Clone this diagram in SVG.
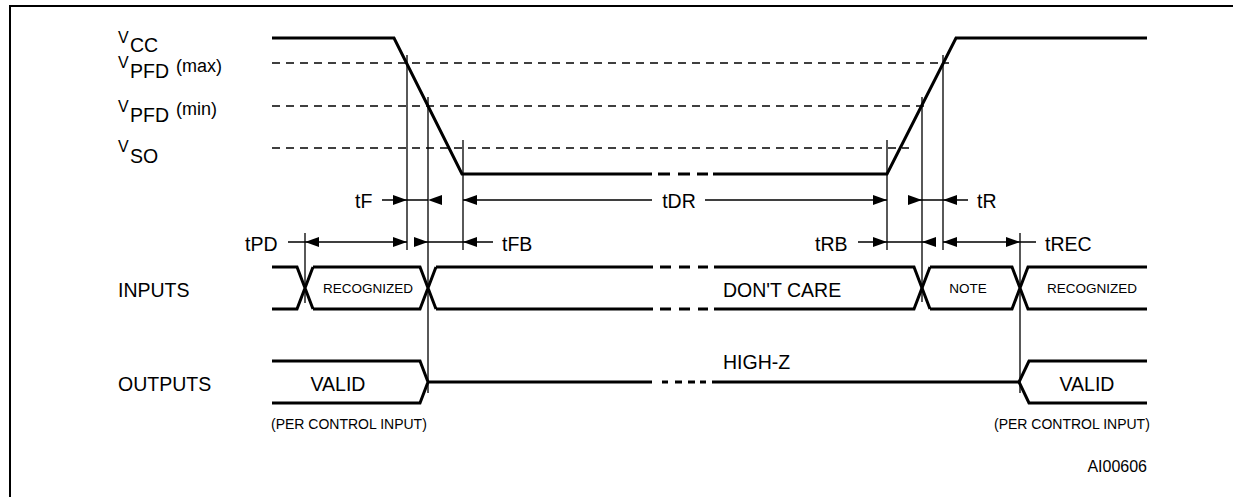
<svg xmlns="http://www.w3.org/2000/svg" xmlns:xlink="http://www.w3.org/1999/xlink" width="1233" height="497" viewBox="0 0 1233 497">
<style>
text{font-family:"Liberation Sans",Arial,Helvetica,sans-serif;fill:#000}
.lb{font-size:19.5px}
.sm{font-size:13.5px}
.pc{font-size:14px}
.thick{fill:none;stroke:#000;stroke-width:3}
.dash{fill:none;stroke:#000;stroke-width:1.4;stroke-dasharray:8 6}
.thin{fill:none;stroke:#000;stroke-width:1.3}
.frame{fill:none;stroke:#000;stroke-width:2}
</style>
<defs>
<path id="ar" d="M0,0 L-14,-5 L-14,5 Z" fill="#000"/>
<path id="al" d="M0,0 L14,-5 L14,5 Z" fill="#000"/>
</defs>
<rect width="1233" height="497" fill="#fff"/>
<path class="frame" d="M10,497 V6 H1233"/>

<g id="vlabels" class="lb">
<text><tspan x="118" y="43" font-size="16">V</tspan><tspan x="130" y="52">CC</tspan></text>
<text><tspan x="118" y="68" font-size="16">V</tspan><tspan x="130" y="78">PFD</tspan><tspan x="176" y="72" font-size="18">(max)</tspan></text>
<text><tspan x="118" y="112" font-size="16">V</tspan><tspan x="130" y="122">PFD</tspan><tspan x="176" y="115" font-size="18">(min)</tspan></text>
<text><tspan x="118" y="152" font-size="16">V</tspan><tspan x="130" y="163">SO</tspan></text>
</g>

<g id="thresholds">
<path class="dash" d="M272,63 H949"/>
<path class="dash" d="M272,106 H925"/>
<path class="dash" d="M272,148 H909"/>
</g>

<g id="vcc">
<path class="thick" d="M272,38 H394 L462,174 H652 M658,174 H670 M678,174 H690 M697,174 H708 M713,174 H887 L956,38 H1147"/>
</g>

<g id="connectors">
<path class="thin" d="M305,233 V303 M407,55 V250 M428,97 V393 M463,140 V250 M887,140 V250 M922,97 V302 M943,55 V250 M1020,233 V393"/>
<!-- row 1 -->
<path class="thin" d="M382,200 H428 M463,200 H652 M705,200 H887 M908,200 H968"/>
<use xlink:href="#ar" transform="translate(407,200)"/>
<use xlink:href="#al" transform="translate(428,200)"/>
<use xlink:href="#al" transform="translate(463,200)"/>
<use xlink:href="#ar" transform="translate(887,200)"/>
<use xlink:href="#ar" transform="translate(922,200)"/>
<use xlink:href="#al" transform="translate(943,200)"/>
<!-- row 2 -->
<path class="thin" d="M288,242 H407 M414,242 H493 M858,242 H936 M943,242 H1036"/>
<use xlink:href="#al" transform="translate(305,242)"/>
<use xlink:href="#ar" transform="translate(407,242)"/>
<use xlink:href="#ar" transform="translate(428,242)"/>
<use xlink:href="#al" transform="translate(463,242)"/>
<use xlink:href="#ar" transform="translate(887,242)"/>
<use xlink:href="#al" transform="translate(922,242)"/>
<use xlink:href="#al" transform="translate(943,242)"/>
<use xlink:href="#ar" transform="translate(1020,242)"/>
</g>

<g id="timing-labels" class="lb">
<text x="355" y="208">tF</text>
<text x="679" y="208" text-anchor="middle">tDR</text>
<text x="977" y="208">tR</text>
<text x="245" y="251">tPD</text>
<text x="502" y="251">tFB</text>
<text x="815" y="251">tRB</text>
<text x="1045" y="251">tREC</text>
</g>

<g id="inputs">
<text class="lb" x="118" y="297">INPUTS</text>
<path class="thick" d="M272,267 H297 L313,309 M272,309 H297 L313,267"/>
<path class="thick" d="M313,267 H420 L436,309 M313,309 H420 L436,267"/>
<path class="thick" d="M436,267 H653 M660,267 H671 M679,267 H690 M698,267 H708 M714,267 H914 L930,309"/>
<path class="thick" d="M436,309 H653 M660,309 H671 M679,309 H690 M698,309 H708 M714,309 H914 L930,267"/>
<path class="thick" d="M930,267 H1012 L1028,309 H1147 M930,309 H1012 L1028,267 H1147"/>
<text class="sm" x="368" y="293" text-anchor="middle">RECOGNIZED</text>
<text class="lb" x="723" y="297">DON'T CARE</text>
<text class="sm" x="968" y="293" text-anchor="middle">NOTE</text>
<text class="sm" x="1092" y="293" text-anchor="middle">RECOGNIZED</text>
</g>

<g id="outputs">
<text class="lb" x="118" y="391">OUTPUTS</text>
<path class="thick" d="M272,361 H420 L428,382 L420,403 H272"/>
<path class="thick" d="M428,382 H652 M662,382 H668 M675,382 H682 M688,382 H695 M700,382 H706 M712,382 H1019"/>
<path class="thick" d="M1147,361 H1029 L1019,382 L1029,403 H1147"/>
<text class="lb" x="338" y="391" text-anchor="middle">VALID</text>
<text class="lb" x="723" y="369">HIGH-Z</text>
<text class="lb" x="1087" y="391" text-anchor="middle">VALID</text>
<text class="pc" x="271" y="429">(PER CONTROL INPUT)</text>
<text class="pc" x="994" y="429">(PER CONTROL INPUT)</text>
</g>

<text x="1147" y="472" font-size="16" text-anchor="end">AI00606</text>
</svg>
